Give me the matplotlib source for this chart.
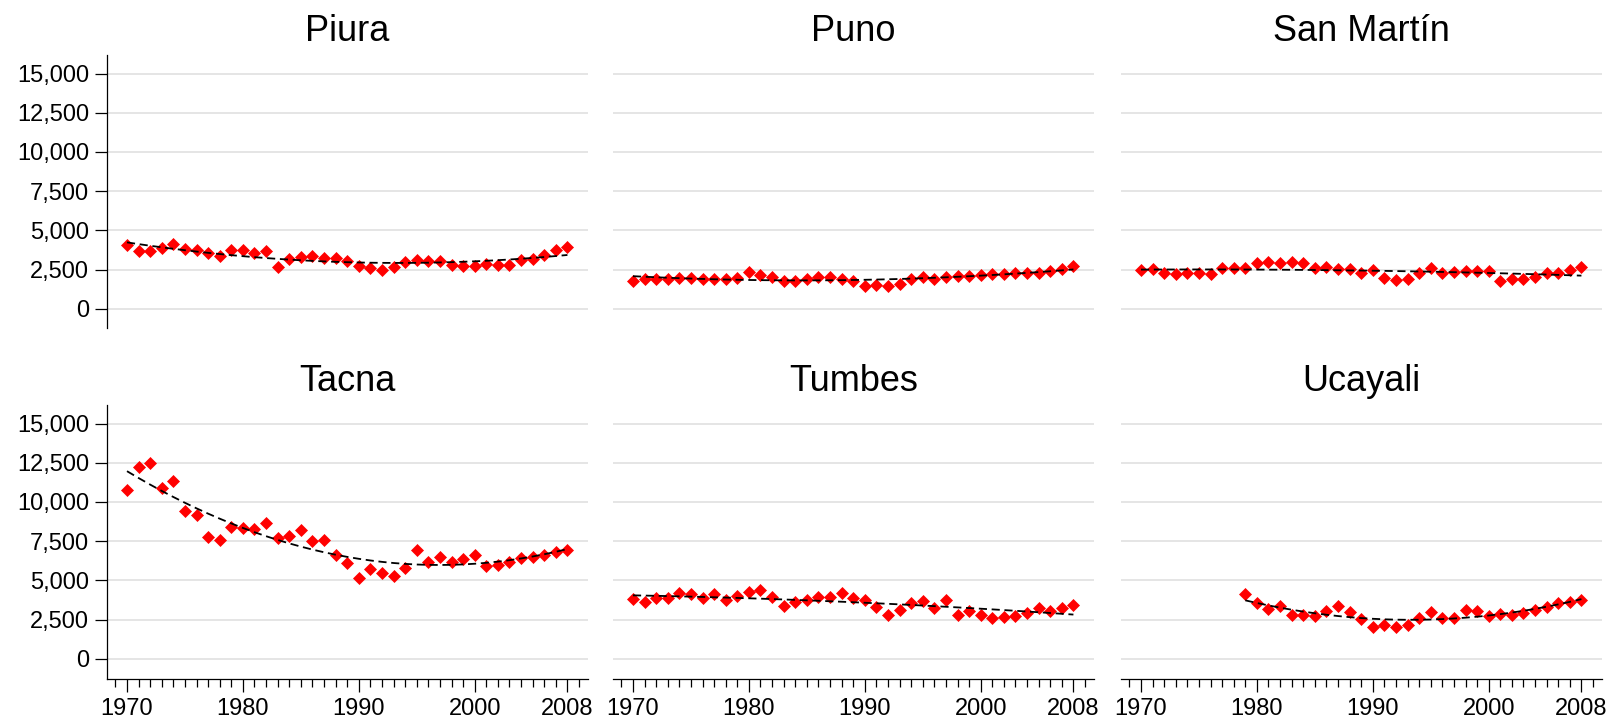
import numpy as np
import matplotlib
matplotlib.use("Agg")
import matplotlib.pyplot as plt
from matplotlib.ticker import FuncFormatter, MultipleLocator, FixedLocator

plt.rcParams['font.family'] = ['Liberation Sans', 'DejaVu Sans']

# Values
years = list(range(1970, 2009))
years_ucayali = list(range(1979, 2009))

piura = [4099, 3673, 3673, 3888, 4143, 3824, 3738, 3570, 3355, 3780,
         3738, 3570, 3673, 2652, 3187, 3290, 3398, 3251, 3251, 3034,
         2716, 2588, 2505, 2677, 2996, 3098, 3077, 3034, 2824, 2760,
         2760, 2868, 2805, 2824, 3098, 3206, 3461, 3780, 3952]
puno = [1809, 1936, 1873, 1936, 1958, 1979, 1936, 1873, 1915, 1979,
        2362, 2149, 2021, 1766, 1809, 1873, 2043, 2043, 1915, 1766,
        1447, 1553, 1490, 1617, 1915, 2021, 1873, 2043, 2085, 2085,
        2128, 2192, 2192, 2256, 2256, 2298, 2405, 2554, 2724]
san_martin = [2468, 2511, 2298, 2234, 2298, 2298, 2192, 2575, 2575, 2617,
              2894, 3000, 2937, 2979, 2894, 2617, 2681, 2511, 2511, 2256,
              2468, 1979, 1830, 1873, 2256, 2617, 2256, 2341, 2405, 2405,
              2405, 1809, 1873, 1873, 2043, 2256, 2298, 2468, 2681]
tacna = [10743, 12227, 12502, 10892, 11315, 9430, 9154, 7777, 7607, 8412,
         8370, 8306, 8667, 7713, 7819, 8200, 7501, 7607, 6611, 6082,
         5128, 5721, 5446, 5276, 5806, 6929, 6188, 6463, 6145, 6357,
         6611, 5912, 5976, 6188, 6400, 6463, 6611, 6823, 6929]
tumbes = [3793, 3645, 3899, 3899, 4174, 4111, 3899, 4111, 3751, 4005,
          4280, 4386, 3920, 3390, 3645, 3751, 3920, 3920, 4174, 3857,
          3751, 3327, 2797, 3115, 3581, 3708, 3263, 3751, 2797, 3051,
          2797, 2628, 2691, 2733, 2903, 3263, 3051, 3263, 3433]
ucayali = [4132, 3539, 3157, 3369, 2797, 2797, 2733, 3051, 3369, 3009,
           2522, 2055, 2161, 2013, 2161, 2585, 3009, 2585, 2585, 3115,
           3051, 2733, 2861, 2797, 2903, 3115, 3284, 3539, 3602, 3751]

panels = [
    ("Piura", years, piura),
    ("Puno", years, puno),
    ("San Martín", years, san_martin),
    ("Tacna", years, tacna),
    ("Tumbes", years, tumbes),
    ("Ucayali", years_ucayali, ucayali),
]

W, H = 1612, 723
fig = plt.figure(figsize=(W / 100, H / 100), dpi=100)

lefts = [107.3, 613.3, 1121.3]
tops = [55, 405]
pw, ph = 480.4, 273.5

for i, (name, xs, vals) in enumerate(panels):
    row, col = divmod(i, 3)
    left = lefts[col]
    top = tops[row]
    ax = fig.add_axes([left / W, 1 - (top + ph) / H, pw / W, ph / H])

    # quadratic fit through the points, like a qfit overlay
    coef = np.polyfit(xs, vals, 2)
    fit = np.polyval(coef, xs)

    ax.plot(xs, vals, linestyle='none', marker='D', markersize=6.4,
            color='#ff0000', markeredgewidth=0.5, zorder=3)
    ax.plot(xs, fit, color='black', linewidth=1.3, dashes=(4.5, 2.6), zorder=4)

    ax.set_xlim(1968.3, 2009.75)
    ax.set_ylim(-1250, 16180)
    ax.set_yticks([0, 2500, 5000, 7500, 10000, 12500, 15000])
    ax.yaxis.set_major_formatter(FuncFormatter(lambda v, p: f"{v:,.0f}"))
    ax.grid(axis='y', color='#e3e3e3', linewidth=1.3, zorder=0)
    ax.set_axisbelow(True)

    ax.set_title(name, fontsize=26, pad=10)

    for s in ['top', 'right']:
        ax.spines[s].set_visible(False)
    ax.spines['left'].set_linewidth(0.9)
    ax.spines['bottom'].set_linewidth(0.9)

    if col == 0:
        ax.tick_params(axis='y', labelsize=17, length=9, width=0.9, pad=4)
    else:
        ax.spines['left'].set_visible(False)
        ax.tick_params(axis='y', left=False, labelleft=False)

    if row == 0:
        ax.spines['bottom'].set_visible(False)
        ax.tick_params(axis='x', which='both', bottom=False, labelbottom=False)
    else:
        ax.xaxis.set_major_locator(FixedLocator([1970, 1980, 1990, 2000, 2008]))
        ax.xaxis.set_minor_locator(MultipleLocator(1))
        ax.tick_params(axis='x', which='major', labelsize=17, length=9.6, width=0.9, pad=4.5)
        ax.tick_params(axis='x', which='minor', length=5.5, width=0.9)

fig.savefig("out.png", dpi=100)
